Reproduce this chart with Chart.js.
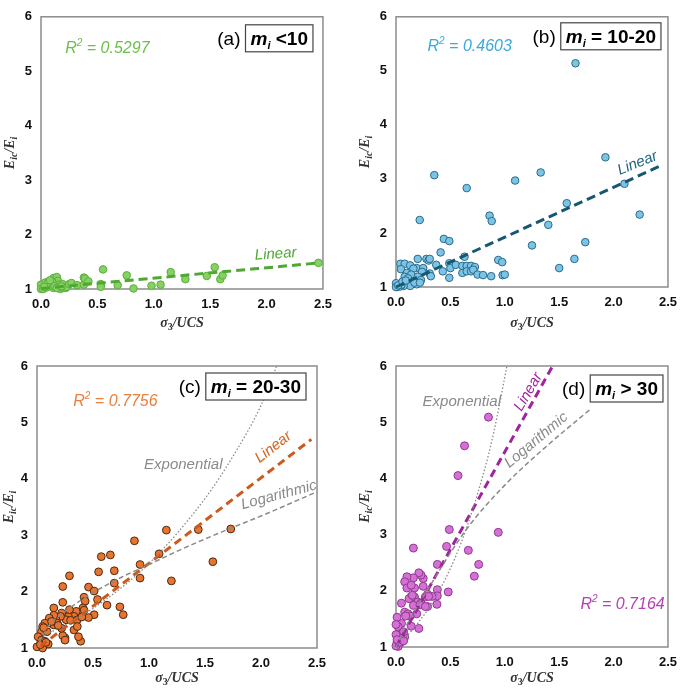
<!DOCTYPE html>
<html>
<head>
<meta charset="utf-8">
<script src="https://cdn.jsdelivr.net/npm/chart.js@4/dist/chart.umd.min.js"></script>
<style>
    body { margin: 0; background: #fff; width: 685px; height: 689px; position: relative; overflow: hidden; }
    .panel { position: absolute; }
</style>
</head>
<body>
<div class="panel" id="pa" style="left:0;top:0;width:340px;height:335px"><canvas></canvas></div>
<div class="panel" id="pb" style="left:345px;top:0;width:340px;height:335px"><canvas></canvas></div>
<div class="panel" id="pc" style="left:0;top:335px;width:340px;height:354px"><canvas></canvas></div>
<div class="panel" id="pd" style="left:345px;top:335px;width:340px;height:354px"><canvas></canvas></div>
<script>
// axis ticks
const xTickVals = [0, 0.5, 1, 1.5, 2, 2.5];
const xTickLabels = ['0.0', '0.5', '1.0', '1.5', '2.0', '2.5'];
const yTickVals = [1, 2, 3, 4, 5, 6];
const yTickLabels = ['1', '2', '3', '4', '5', '6'];

// (a) mi < 10
const aX = [0.00, 0.00, 0.02, 0.04, 0.05, 0.07, 0.09, 0.11, 0.11, 0.13, 0.14, 0.15, 0.16, 0.17, 0.19, 0.20, 0.22, 0.23, 0.25, 0.27,
            0.32, 0.38, 0.38, 0.39, 0.42, 0.53, 0.53, 0.55, 0.68, 0.76, 0.82, 0.98, 1.06, 1.15, 1.28, 1.47, 1.54, 1.59, 1.61, 2.46,
            0.06, 0.10, 0.12, 0.03, 0.08, 0.14, 0.18];
const aY = [1.08, 1.00, 1.00, 1.12, 1.03, 1.14, 1.06, 1.20, 1.02, 1.12, 1.22, 1.15, 1.08, 1.00, 1.09, 1.02, 1.02, 1.04, 1.09, 1.11,
            1.07, 1.21, 1.08, 1.19, 1.14, 1.09, 1.04, 1.36, 1.07, 1.25, 1.01, 1.06, 1.08, 1.31, 1.18, 1.24, 1.40, 1.18, 1.25, 1.48,
            1.10, 1.13, 1.05, 1.04, 1.16, 1.02, 1.05];
const aLinX = [0, 2.47];
const aLinY = [1.01, 1.48];

// (b) mi = 10-20
const bX = [1.65, 1.925, 2.10, 2.24, 1.33, 1.095, 0.352, 0.65, 0.218, 0.86, 0.88, 1.57, 1.40, 1.74, 1.25, 1.64, 1.50, 0.44, 0.49, 0.41,
            0.49, 0.50, 0.49, 0.43, 0.55, 0.63, 0.61, 0.65, 0.69, 0.725, 0.61, 0.65, 0.69, 0.71, 0.75, 0.80, 0.875, 0.94, 0.976, 0.98,
            1.00, 0.28, 0.30, 0.31, 0.37, 0.31, 0.32, 0.20, 0.19, 0.25, 0.24, 0.04, 0.08, 0.13, 0.16, 0.045, 0.10, 0.08, 0.14, 0.11,
            0.20, 0.23, 0.19, 0.13, 0.07, 0.01, 0.00, 0.04, 0.17, 0.22, 0.00, 0.05, 0.02, 0.06, 0.09];
const bY = [5.14, 3.40, 2.91, 2.34, 3.12, 2.97, 3.07, 2.83, 2.24, 2.32, 2.22, 2.55, 2.15, 1.83, 1.77, 1.52, 1.35, 1.89, 1.85, 1.64,
            1.44, 1.35, 1.17, 1.29, 1.41, 1.56, 1.39, 1.39, 1.39, 1.37, 1.26, 1.29, 1.29, 1.32, 1.23, 1.22, 1.20, 1.50, 1.46, 1.22,
            1.23, 1.52, 1.49, 1.52, 1.41, 1.25, 1.20, 1.52, 1.35, 1.35, 1.28, 1.43, 1.43, 1.40, 1.34, 1.33, 1.26, 1.19, 1.23, 1.16,
            1.19, 1.13, 1.05, 1.02, 1.02, 1.00, 1.07, 1.01, 1.08, 1.08, 1.00, 1.04, 1.03, 1.10, 1.12];
const bLinX = [0, 2.45];
const bLinY = [1.0, 3.26];

// (c) mi = 20-30
const cX = [1.155, 1.44, 1.73, 0.87, 1.09, 1.57, 1.20, 0.92, 0.92, 0.655, 0.574, 0.55, 0.69, 0.69, 0.29, 0.23, 0.46, 0.51, 0.625, 0.74,
            0.77, 0.51, 0.46, 0.42, 0.43, 0.41, 0.54, 0.15, 0.23, 0.39, 0.25, 0.23, 0.42, 0.35, 0.33, 0.36, 0.28, 0.26, 0.30, 0.22,
            0.21, 0.17, 0.15, 0.11, 0.12, 0.15, 0.18, 0.07, 0.05, 0.04, 0.09, 0.01, 0.04, 0.07, 0.10, 0.25, 0.33, 0.37, 0.22, 0.36,
            0.00, 0.05, 0.03, 0.40, 0.13, 0.19, 0.08, 0.29, 0.06];
const cY = [3.09, 3.10, 3.11, 2.90, 2.67, 2.53, 2.19, 2.24, 2.48, 2.65, 2.62, 2.35, 2.37, 2.15, 2.28, 2.09, 2.08, 2.01, 1.76, 1.73,
            1.59, 1.59, 1.54, 1.90, 1.83, 1.71, 1.86, 1.71, 1.81, 1.12, 1.18, 1.22, 1.67, 1.65, 1.56, 1.50, 1.56, 1.50, 1.49, 1.62,
            1.56, 1.50, 1.58, 1.53, 1.44, 1.41, 1.44, 1.44, 1.38, 1.29, 1.29, 1.20, 1.14, 1.12, 1.07, 1.14, 1.32, 1.20, 1.35, 1.38,
            1.02, 1.00, 1.06, 1.55, 1.47, 1.40, 1.10, 1.68, 1.36];
const cLinX = [0.03, 2.45];
const cLinY = [1.03, 4.70];
const cExpX = [0.00, 0.50, 1.00, 1.50, 1.75, 2.00, 2.14];
const cExpY = [1.15, 1.70, 2.50, 3.65, 4.40, 5.30, 6.00];
const cLogX = [0.02, 0.10, 0.30, 0.50, 0.75, 1.00, 1.30, 1.75, 2.00, 2.50];
const cLogY = [1.10, 1.38, 1.72, 1.98, 2.25, 2.48, 2.76, 3.14, 3.34, 3.77];

// (d) mi > 30
const dX = [0.85, 0.63, 0.57, 0.49, 0.94, 0.465, 0.665, 0.16, 0.38, 0.76, 0.72, 0.48, 0.38, 0.38, 0.376, 0.33, 0.29, 0.29, 0.25, 0.25,
            0.23, 0.21, 0.16, 0.10, 0.08, 0.10, 0.17, 0.14, 0.12, 0.17, 0.20, 0.05, 0.16, 0.23, 0.19, 0.08, 0.11, 0.13, 0.09, 0.21,
            0.14, 0.05, 0.01, 0.02, 0.06, 0.08, 0.04, 0.01, 0.02, 0.05, 0.04, 0.00, 0.00, 0.07, 0.03, 0.01, 0.07, 0.27, 0.30, 0.14,
            0.22, 0.27, 0.00, 0.15];
const dY = [5.09, 4.58, 4.05, 3.09, 3.04, 2.79, 2.72, 2.76, 2.47, 2.47, 2.26, 1.98, 2.02, 1.91, 1.76, 1.90, 1.72, 1.94, 2.08, 2.22,
            2.28, 2.32, 2.23, 2.25, 2.16, 2.05, 2.05, 1.90, 1.86, 1.89, 1.80, 1.78, 1.74, 1.78, 1.59, 1.62, 1.59, 1.55, 1.55, 1.33,
            1.37, 1.42, 1.53, 1.36, 1.25, 1.18, 1.15, 1.09, 1.01, 1.09, 1.21, 1.22, 1.02, 1.27, 1.08, 1.13, 1.11, 1.89, 1.90, 2.10,
            1.75, 1.72, 1.40, 1.92];
const dLinX = [0, 1.44];
const dLinY = [1.0, 6.0];
const dExpX = [0.00, 0.20, 0.40, 0.60, 0.80, 0.90, 1.02];
const dExpY = [1.00, 1.42, 2.01, 2.86, 4.06, 4.83, 6.00];
const dLogX = [0.00, 0.10, 0.30, 0.65, 1.00, 1.40, 1.78];
const dLogY = [1.00, 1.40, 2.05, 3.10, 3.88, 4.60, 5.22];

const SERIF = '"Liberation Serif"';
const SANS = '"Liberation Sans"';
const GRAY = '#8a8a8a';

let pairs = function(xs, ys) {
    return xs.map((x, i) => ({x: x, y: ys[i]}));
};

// draw a run of text pieces (for sub/superscripts)
let rich = function(ctx, parts, x, y, align, color) {
    let w = 0;
    parts.forEach(p => { ctx.font = p.f; w += ctx.measureText(p.t).width; });
    let cx = align === 'center' ? x - w / 2 : (align === 'right' ? x - w : x);
    ctx.textAlign = 'left';
    ctx.textBaseline = 'alphabetic';
    parts.forEach(p => {
        ctx.font = p.f;
        ctx.fillStyle = p.c || color;
        ctx.fillText(p.t, cx, y + (p.dy || 0));
        cx += ctx.measureText(p.t).width;
    });
    return w;
};

const decor = {
    id: 'decor',
    beforeDatasetsDraw(chart, args, o) {
        const {ctx, chartArea: ca} = chart;
        ctx.save();
        ctx.strokeStyle = '#8c8c8c';
        ctx.lineWidth = 1.5;
        ctx.strokeRect(ca.left, ca.top, ca.right - ca.left, ca.bottom - ca.top);
        ctx.restore();
    },
    afterDatasetsDraw(chart, args, o) {
        const {ctx, chartArea: ca, scales} = chart;
        const sx = scales.x, sy = scales.y;
        ctx.save();

        // x title
        rich(ctx, [
            {t: 'σ', f: 'italic bold 14px ' + SERIF},
            {t: '3', f: 'bold 10px ' + SERIF, dy: 3},
            {t: '/UCS', f: 'italic bold 14px ' + SERIF}
        ], (ca.left + ca.right) / 2, ca.bottom + o.xTitleDy + 4, 'center', '#333');

        // y title
        ctx.save();
        ctx.translate(o.yTitleX, (ca.top + ca.bottom) / 2);
        ctx.rotate(-Math.PI / 2);
        rich(ctx, [
            {t: 'E', f: 'italic bold 14px ' + SERIF},
            {t: 'ic', f: 'italic bold 10px ' + SERIF, dy: 3},
            {t: '/E', f: 'italic bold 14px ' + SERIF},
            {t: 'i', f: 'italic bold 10px ' + SERIF, dy: 3}
        ], 0, 4, 'center', '#333');
        ctx.restore();

        // R2
        rich(ctx, [
            {t: 'R', f: 'italic 16px ' + SANS},
            {t: '2', f: 'italic 10px ' + SANS, dy: -7},
            {t: ' = ' + o.r2, f: 'italic 16px ' + SANS}
        ], sx.getPixelForValue(o.r2x), sy.getPixelForValue(o.r2y) + 6, 'left', o.r2c);

        // trend labels
        o.labels.forEach(l => {
            ctx.save();
            ctx.translate(sx.getPixelForValue(l.x), sy.getPixelForValue(l.y));
            ctx.rotate(l.a * Math.PI / 180);
            ctx.font = 'italic 15px ' + SANS;
            ctx.fillStyle = l.c;
            ctx.textAlign = 'center';
            ctx.textBaseline = 'middle';
            ctx.fillText(l.t, 0, 0);
            ctx.restore();
        });

        // tag + boxed mi range
        const parts = [
            {t: 'm', f: 'italic bold 19px ' + SANS},
            {t: 'i', f: 'italic bold 11px ' + SANS, dy: 4},
            {t: o.range, f: 'bold 19px ' + SANS}
        ];
        let w = 0;
        parts.forEach(p => { ctx.font = p.f; w += ctx.measureText(p.t).width; });
        const bw = w + 10, bh = 27;
        const bx = ca.right - o.boxIn - bw, by = ca.top + o.boxTop;
        ctx.fillStyle = '#fff';
        ctx.fillRect(bx, by, bw, bh);
        ctx.strokeStyle = '#444';
        ctx.lineWidth = 1.2;
        ctx.strokeRect(bx, by, bw, bh);
        rich(ctx, parts, bx + 5, by + 20, 'left', '#000');
        ctx.font = '19px ' + SANS;
        ctx.fillStyle = '#000';
        ctx.textAlign = 'right';
        ctx.fillText(o.tag, bx - 5, by + 20);

        ctx.restore();
    }
};

let lineSet = function(xs, ys, color, width, dash) {
    return {
        type: 'scatter',
        data: pairs(xs, ys),
        showLine: true,
        borderColor: color,
        borderWidth: width,
        borderDash: dash,
        pointRadius: 0,
        cubicInterpolationMode: 'monotone',
        fill: false,
        clip: false,
        order: 0
    };
};

let buildChart = function(p) {
    const el = document.getElementById(p.id);
    const canvas = el.querySelector('canvas');
    const datasets = [{
        data: pairs(p.xs, p.ys),
        backgroundColor: p.fill,
        borderColor: p.edge,
        borderWidth: 1,
        pointRadius: p.r,
        clip: false,
        order: 1
    }].concat(p.lines);

    return new Chart(canvas.getContext('2d'), {
        type: 'scatter',
        data: {datasets: datasets},
        options: {
            responsive: true,
            maintainAspectRatio: false,
            animation: false,
            events: [],
            layout: {padding: {top: p.pad[0], right: p.pad[1], left: 0, bottom: 0}},
            plugins: {
                legend: {display: false},
                tooltip: {enabled: false},
                decor: p.decor
            },
            scales: {
                x: {
                    type: 'linear',
                    min: 0,
                    max: 2.5,
                    afterBuildTicks: s => { s.ticks = xTickVals.map(v => ({value: v})); },
                    afterFit: s => { s.height = p.xh; },
                    grid: {display: false, drawTicks: false},
                    border: {display: false},
                    ticks: {
                        padding: 8,
                        color: '#111',
                        font: {family: SANS, size: 13, weight: 'bold'},
                        callback: (v, i) => xTickLabels[i]
                    }
                },
                y: {
                    type: 'linear',
                    min: 1,
                    max: 6,
                    afterBuildTicks: s => { s.ticks = yTickVals.map(v => ({value: v})); },
                    afterFit: s => { s.width = p.yw; },
                    grid: {display: false, drawTicks: false},
                    border: {display: false},
                    ticks: {
                        padding: 9,
                        color: '#111',
                        font: {family: SANS, size: 13, weight: 'bold'},
                        callback: (v, i) => yTickLabels[i]
                    }
                }
            }
        },
        plugins: [decor]
    });
};

const panels = [
    {
        id: 'pa', xs: aX, ys: aY, fill: '#86d164', edge: '#5aae3a', r: 3.8,
        pad: [7, 17], yw: 41, xh: 46,
        lines: [lineSet(aLinX, aLinY, '#4ea832', 3, [9, 5])],
        decor: {
            xTitleDy: 34, yTitleX: 10, tag: '(a)', range: ' <10', boxIn: 10, boxTop: 8,
            r2: '0.5297', r2x: 0.215, r2y: 5.45, r2c: '#6cbf4a',
            labels: [{t: 'Linear', x: 2.08, y: 1.64, a: -4, c: '#4ea832'}]
        }
    },
    {
        id: 'pb', xs: bX, ys: bY, fill: '#7cc4e6', edge: '#2b6a8a', r: 3.8,
        pad: [9, 10], yw: 51, xh: 48,
        lines: [lineSet(bLinX, bLinY, '#15586f', 3, [9, 5])],
        decor: {
            xTitleDy: 36, yTitleX: 20, tag: '(b)', range: ' = 10-20', boxIn: 7, boxTop: 6,
            r2: '0.4603', r2x: 0.29, r2y: 5.48, r2c: '#3aaadc',
            labels: [{t: 'Linear', x: 2.22, y: 3.29, a: -22, c: '#1d6582'}]
        }
    },
    {
        id: 'pc', xs: cX, ys: cY, fill: '#e8742f', edge: '#4a2a14', r: 3.9,
        pad: [31, 23], yw: 37, xh: 41,
        lines: [
            lineSet(cExpX, cExpY, GRAY, 1.3, [1.5, 2]),
            lineSet(cLogX, cLogY, GRAY, 1.5, [5, 3]),
            lineSet(cLinX, cLinY, '#cc5a1e', 3, [8, 5])
        ],
        decor: {
            xTitleDy: 30, yTitleX: 9, tag: '(c)', range: ' = 20-30', boxIn: 11, boxTop: 7,
            r2: '0.7756', r2x: 0.324, r2y: 5.40, r2c: '#e9803f',
            labels: [
                {t: 'Linear', x: 2.11, y: 4.56, a: -38, c: '#d0641e'},
                {t: 'Exponential', x: 1.306, y: 4.24, a: 0, c: GRAY},
                {t: 'Logarithmic', x: 2.16, y: 3.71, a: -15, c: GRAY}
            ]
        }
    },
    {
        id: 'pd', xs: dX, ys: dY, fill: '#d670d6', edge: '#8d3a8d', r: 4,
        pad: [31, 10], yw: 51, xh: 42,
        lines: [
            lineSet(dExpX, dExpY, GRAY, 1.3, [1.5, 2]),
            lineSet(dLogX, dLogY, GRAY, 1.5, [5, 3]),
            lineSet(dLinX, dLinY, '#a0249f', 3, [8, 5])
        ],
        decor: {
            xTitleDy: 31, yTitleX: 20, tag: '(d)', range: ' > 30', boxIn: 5, boxTop: 9,
            r2: '0.7164', r2x: 1.695, r2y: 1.78, r2c: '#b53fb5',
            labels: [
                {t: 'Linear', x: 1.217, y: 5.54, a: -60, c: '#a0249f'},
                {t: 'Exponential', x: 0.605, y: 5.36, a: 0, c: GRAY},
                {t: 'Logarithmic', x: 1.29, y: 4.68, a: -40, c: GRAY}
            ]
        }
    }
];

panels.forEach(buildChart);
</script>
</body>
</html>
